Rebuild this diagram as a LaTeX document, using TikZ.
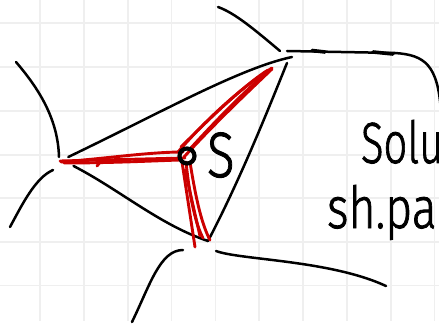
\documentclass[tikz,border=0pt]{standalone}
\usepackage{fontspec}
\newfontfamily\handfont{Fira Sans Light}[FakeBold=1.5]
\usepackage{graphicx}
\definecolor{gridc}{HTML}{EFEFEF}
\definecolor{redpen}{HTML}{CC0000}
\tikzset{
  gridline/.style={draw=gridc, line width=1.8pt},
  pen/.style={draw=black, line width=2.5pt, line cap=round, line join=round},
  penthick/.style={draw=black, line width=3.6pt, line cap=round},
  redstroke/.style={draw=redpen, line width=2.9pt, line cap=round, line join=round},
  hand/.style={inner sep=0pt, outer sep=0pt, text=black},
}
\begin{document}
\begin{tikzpicture}[x=1pt,y=-1pt]
\useasboundingbox (0,0) rectangle (439,326);
\clip (0,0) rectangle (439,326);
\fill[white] (0,0) rectangle (439,326);
% grid paper
\foreach \gx in {40,84,128,171.5,215.5,259,303,347,391,434.5}
  \draw[gridline] (\gx,0) -- (\gx,321);
\foreach \gy in {23,67,111,155,198,242,285.5}
  \draw[gridline] (0,\gy) -- (439,\gy);

% key points
\coordinate (A) at (62,160);
\coordinate (B) at (292,57);
\coordinate (Bs) at (287,63);
\coordinate (C) at (208,241);
\coordinate (S) at (187,156);

% triangle
\draw[pen, shorten <=7pt] (A) .. controls (160,113) and (240,68) .. (B);
\draw[pen] (Bs) .. controls (268,110) and (240,180) .. (C);
\draw[pen, shorten <=13pt] (A) .. controls (120,190) and (160,225) .. (C);

% red strokes: left arm
\draw[redstroke] (60,161) -- (185,158);
\draw[redstroke] (61,162) .. controls (110,158) and (150,152) .. (183,152);
\draw[redstroke] (64,163) .. controls (110,163) and (150,161) .. (180,160);
\draw[redstroke] (97,166) -- (101,161);
% upper arm
\draw[redstroke] (178,152) .. controls (210,115) and (245,85) .. (272,68);
\draw[redstroke] (184,157) .. controls (216,122) and (250,90) .. (272,69);
\draw[redstroke] (189,150) .. controls (220,116) and (250,86) .. (270,70);
\draw[redstroke] (181,147) .. controls (214,114) and (246,84) .. (268,70);
% lower arm
\draw[redstroke] (182,162) -- (195,247);
\draw[redstroke] (186,162) .. controls (190,200) and (196,225) .. (203,238);
\draw[redstroke] (190,162) .. controls (196,200) and (202,225) .. (210,240);
\draw[redstroke] (185,170) -- (200,236);

% point S
\draw[line width=4.2pt] (S) circle (7.5pt);

% outer strokes
\draw[pen] (16,62) .. controls (40,90) and (58,120) .. (59,157);
\draw[pen] (10,227) .. controls (22,205) and (35,178) .. (53,170);
\draw[pen] (218,7) .. controls (235,13) and (255,30) .. (280,51);
\draw[pen] (287,51) -- (395,53) .. controls (425,55) and (438,65) .. (441,112);
\draw[penthick] (312,50.5) -- (325,52);
\draw[penthick] (373,52) -- (393,54);
\draw[pen] (132,322) .. controls (150,285) and (160,250) .. (183,250);
\draw[pen] (216,251) .. controls (240,260) and (330,260) .. (386,286);

% texts
\node[hand, anchor=base west, font=\handfont\fontsize{64}{66}\selectfont] (lblS) at (207,177) {\scalebox{0.8}[1]{S}};
\node[hand, anchor=base west, font=\handfont\fontsize{58}{60}\selectfont] (solu) at (361,163) {\scalebox{0.72}[1]{Solu}};
\node[hand, anchor=base west, font=\handfont\fontsize{58}{60}\selectfont] (shpa) at (327,228) {\scalebox{0.8}[1]{sh.pa}};
\end{tikzpicture}
\end{document}
